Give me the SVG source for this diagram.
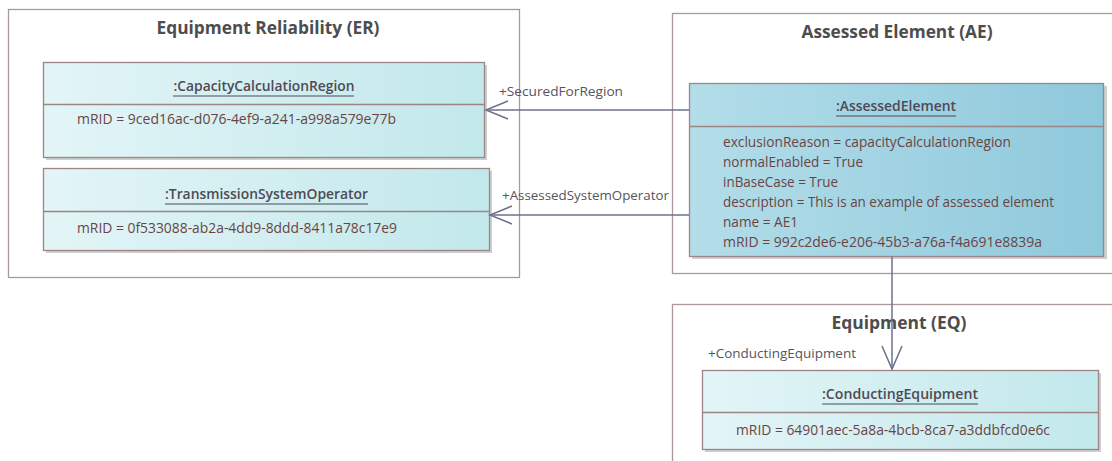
<svg xmlns="http://www.w3.org/2000/svg" width="1112" height="461" viewBox="0 0 1112 461">
<style>
.pkg{fill:#ffffff;stroke:#ad9898;stroke-width:1.3}
.pkgt{font-family:"Open Sans","Liberation Sans",sans-serif;font-weight:bold;font-size:17px;fill:#4d4d4d;text-anchor:middle}
.box{stroke:#9c8585;stroke-width:1.3}
.lt{fill:url(#gl)}
.dk{fill:url(#gd)}
.shd{fill:#cfcfcf}
.div{stroke:#9c8585;stroke-width:1.3}
.ttl{font-family:"Open Sans","Liberation Sans",sans-serif;font-weight:600;font-size:14px;fill:#4f4a55;text-anchor:middle}
.ul{stroke:#4f4a55;stroke-width:1.2}
.att{font-family:"Open Sans","Liberation Sans",sans-serif;font-size:14px;fill:#6a4444}
.lbl{font-family:"Open Sans","Liberation Sans",sans-serif;font-size:13.5px;fill:#555560}
.con{stroke:#6b7290;stroke-width:1.5;fill:none}
</style>
<defs>
<linearGradient id="gl" x1="0" y1="0" x2="1" y2="0">
<stop offset="0" stop-color="#e3f5f7"/>
<stop offset="1" stop-color="#c2e8eb"/>
</linearGradient>
<linearGradient id="gd" x1="0" y1="0" x2="1" y2="0">
<stop offset="0" stop-color="#b3dde9"/>
<stop offset="1" stop-color="#8fc9dc"/>
</linearGradient>
</defs>
<g id="pkg-er">
<rect class="pkg" x="8.5" y="9.5" width="511" height="268"/>
<text class="pkgt" x="268" y="34" textLength="223" lengthAdjust="spacingAndGlyphs">Equipment Reliability (ER)</text>
</g>
<g id="pkg-ae">
<rect class="pkg" x="672.5" y="13.5" width="460" height="260"/>
<text class="pkgt" x="897" y="38" textLength="191" lengthAdjust="spacingAndGlyphs">Assessed Element (AE)</text>
</g>
<g id="pkg-eq">
<rect class="pkg" x="672.5" y="304.5" width="460" height="180"/>
<text class="pkgt" x="899" y="329" textLength="135" lengthAdjust="spacingAndGlyphs">Equipment (EQ)</text>
</g>
<g id="node-ccr">
<rect class="shd" x="46" y="65" width="441" height="95"/>
<rect class="box lt" x="43.5" y="62.5" width="441" height="95"/>
<line class="div" x1="43.5" y1="104.5" x2="484.5" y2="104.5"/>
<text class="ttl" x="264" y="91" textLength="181" lengthAdjust="spacingAndGlyphs">:CapacityCalculationRegion</text>
<line class="ul" x1="173" y1="96" x2="354" y2="96"/>
<text class="att" x="77" y="124" textLength="319" lengthAdjust="spacingAndGlyphs">mRID = 9ced16ac-d076-4ef9-a241-a998a579e77b</text>
</g>
<g id="node-tso">
<rect class="shd" x="46" y="171" width="446" height="82"/>
<rect class="box lt" x="43.5" y="168.5" width="446" height="82"/>
<line class="div" x1="43.5" y1="211.5" x2="489.5" y2="211.5"/>
<text class="ttl" x="266.5" y="199" textLength="203" lengthAdjust="spacingAndGlyphs">:TransmissionSystemOperator</text>
<line class="ul" x1="165" y1="204" x2="368" y2="204"/>
<text class="att" x="77" y="233" textLength="320" lengthAdjust="spacingAndGlyphs">mRID = 0f533088-ab2a-4dd9-8ddd-8411a78c17e9</text>
</g>
<g id="node-ae">
<rect class="shd" x="692" y="86" width="415" height="173"/>
<rect class="box dk" x="689.5" y="83.5" width="414" height="173"/>
<line class="div" x1="689.5" y1="126.5" x2="1103.5" y2="126.5"/>
<text class="ttl" x="896" y="111" textLength="120" lengthAdjust="spacingAndGlyphs">:AssessedElement</text>
<line class="ul" x1="836" y1="116" x2="956" y2="116"/>
<text class="att" x="723" y="147" textLength="288" lengthAdjust="spacingAndGlyphs">exclusionReason = capacityCalculationRegion</text>
<text class="att" x="723" y="167" textLength="140" lengthAdjust="spacingAndGlyphs">normalEnabled = True</text>
<text class="att" x="723" y="187" textLength="115" lengthAdjust="spacingAndGlyphs">inBaseCase = True</text>
<text class="att" x="723" y="207" textLength="331" lengthAdjust="spacingAndGlyphs">description = This is an example of assessed element</text>
<text class="att" x="723" y="227" textLength="75" lengthAdjust="spacingAndGlyphs">name = AE1</text>
<text class="att" x="723" y="247" textLength="319" lengthAdjust="spacingAndGlyphs">mRID = 992c2de6-e206-45b3-a76a-f4a691e8839a</text>
</g>
<g id="node-ce">
<rect class="shd" x="705" y="373" width="396" height="79"/>
<rect class="box lt" x="702.5" y="370.5" width="396" height="79"/>
<line class="div" x1="702.5" y1="412.5" x2="1098.5" y2="412.5"/>
<text class="ttl" x="900" y="399" textLength="156" lengthAdjust="spacingAndGlyphs">:ConductingEquipment</text>
<line class="ul" x1="822" y1="404" x2="978" y2="404"/>
<text class="att" x="736" y="435" textLength="314" lengthAdjust="spacingAndGlyphs">mRID = 64901aec-5a8a-4bcb-8ca7-a3ddbfcd0e6c</text>
</g>
<g id="connectors">
<g id="c-secured">
<line class="con" x1="689" y1="110" x2="486" y2="110"/>
<polyline class="con" points="508,101 486,110 508,119"/>
<text class="lbl" x="499" y="96" textLength="124" lengthAdjust="spacingAndGlyphs">+SecuredForRegion</text>
</g>
<g id="c-tso">
<line class="con" x1="689" y1="215" x2="490" y2="215"/>
<polyline class="con" points="512,206 490,215 512,224"/>
<text class="lbl" x="502" y="200" textLength="167" lengthAdjust="spacingAndGlyphs">+AssessedSystemOperator</text>
</g>
<g id="c-ce">
<line class="con" x1="892" y1="257" x2="892" y2="369"/>
<polyline class="con" points="882,346 892,369 902,346"/>
<text class="lbl" x="708" y="358" textLength="148" lengthAdjust="spacingAndGlyphs">+ConductingEquipment</text>
</g>
</g>
</svg>
